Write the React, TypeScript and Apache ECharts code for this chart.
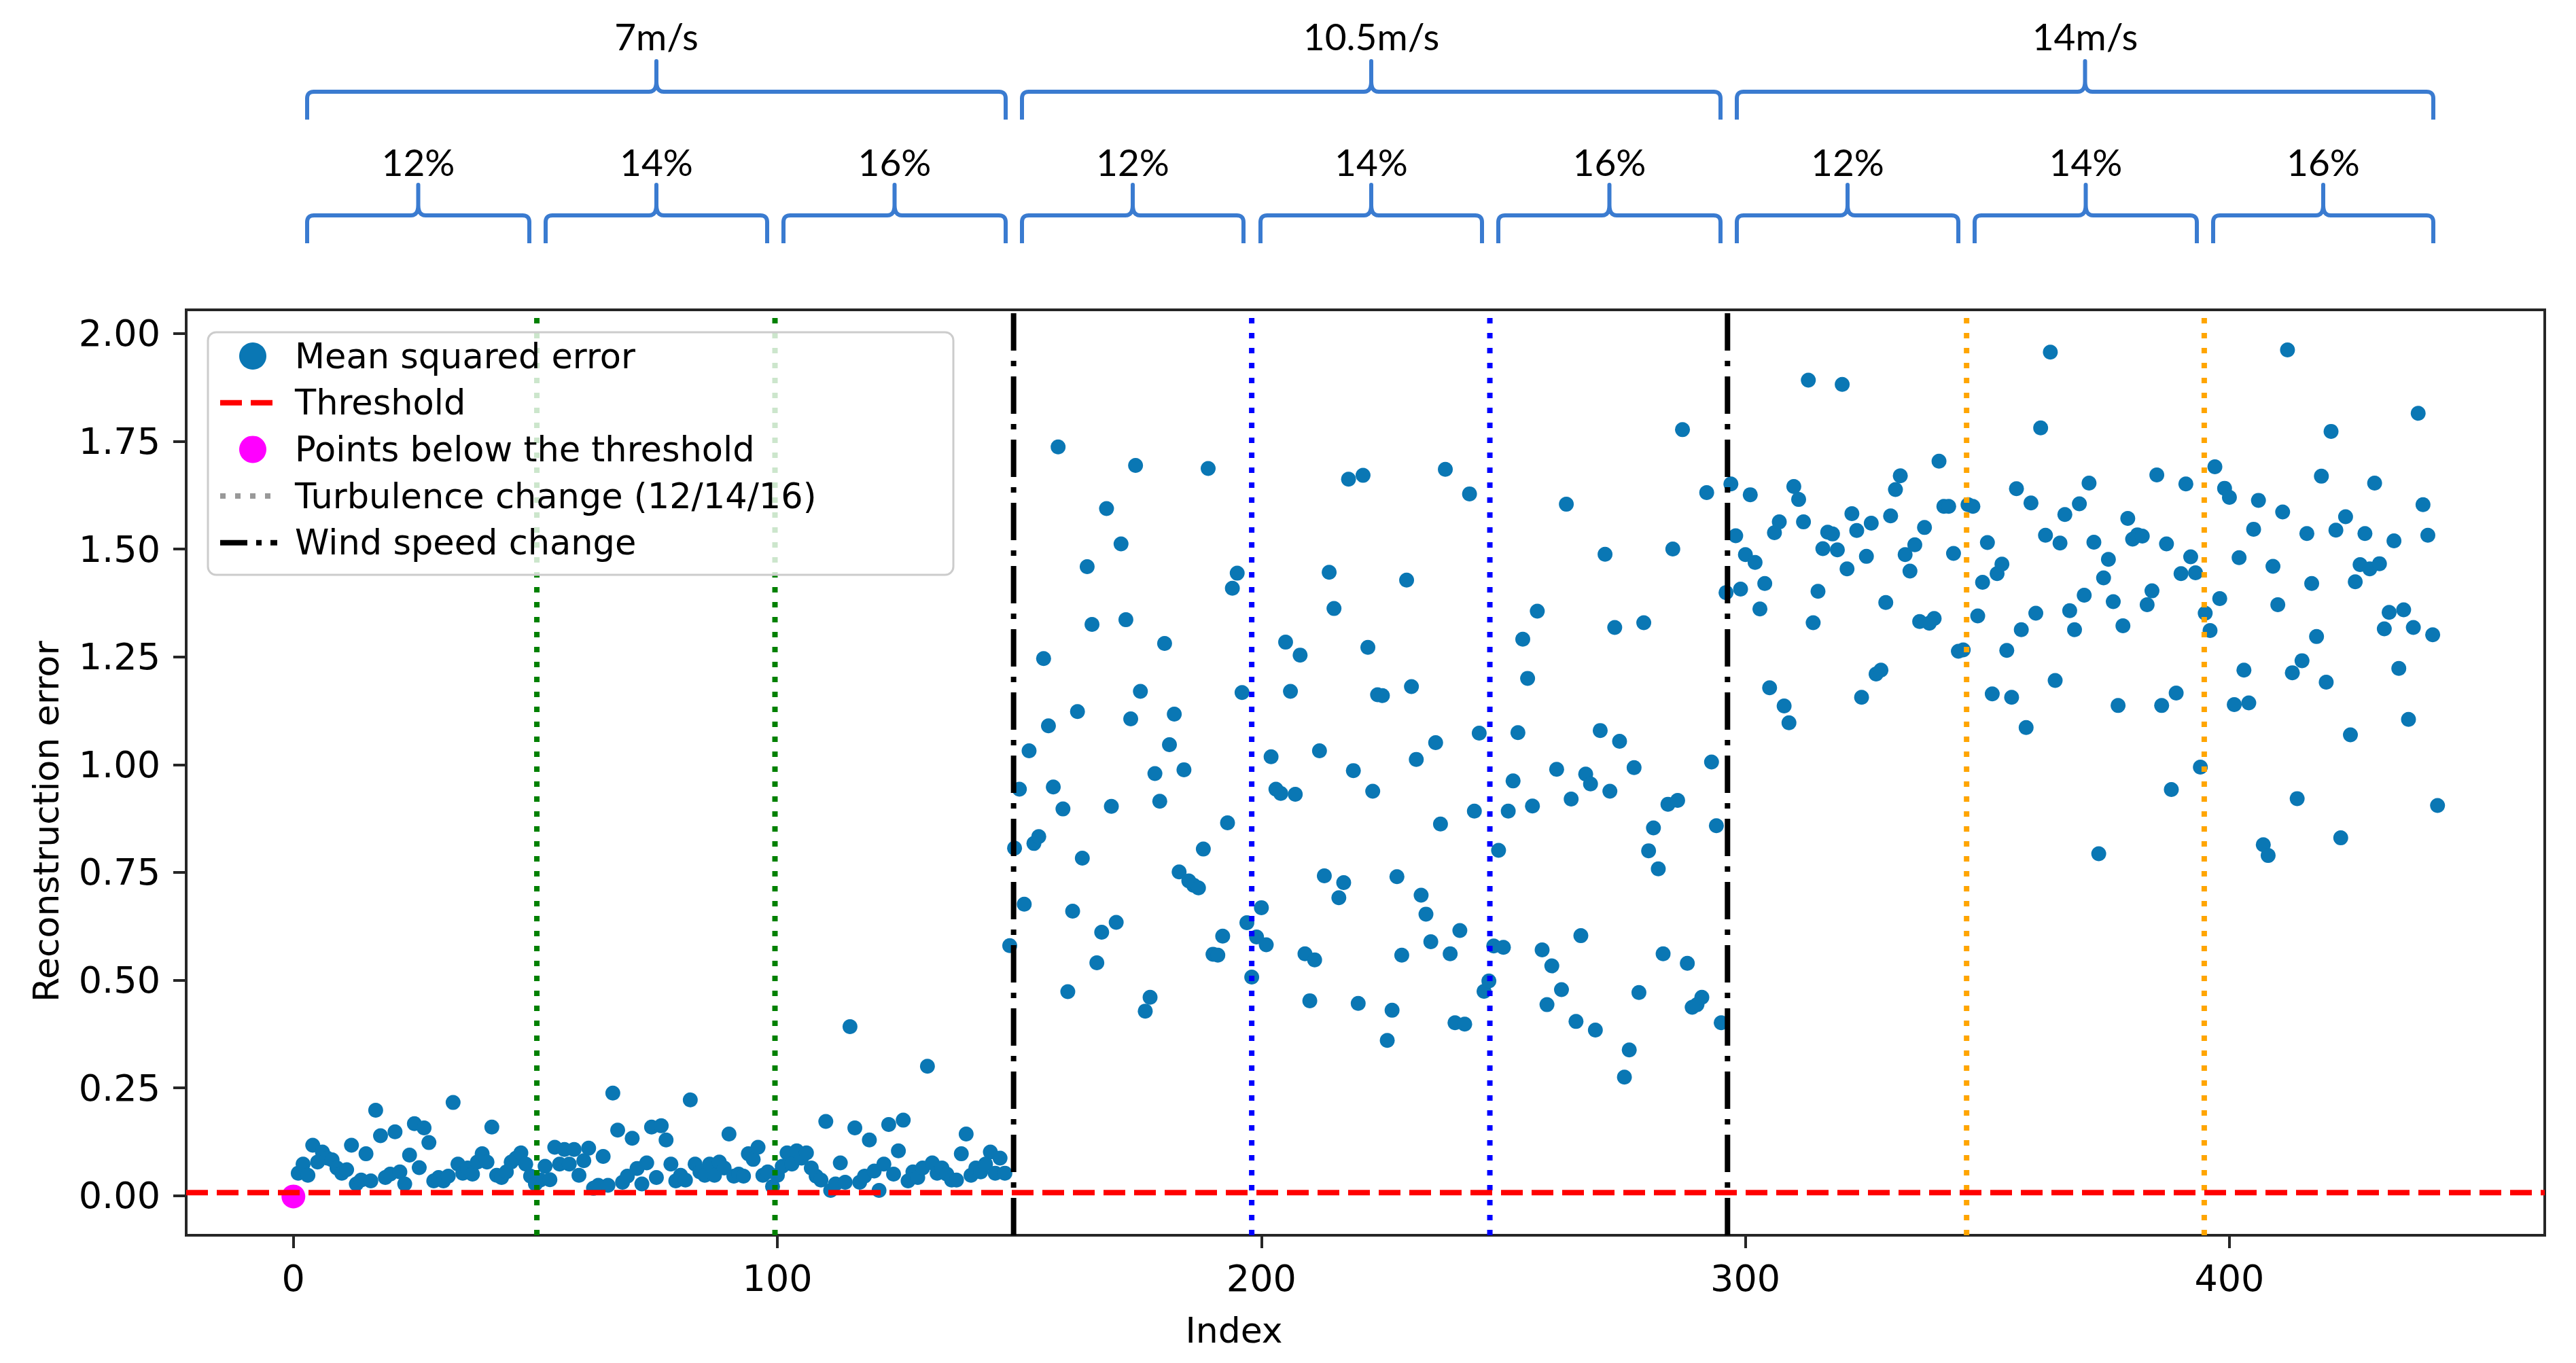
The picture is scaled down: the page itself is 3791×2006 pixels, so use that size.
import React, { useEffect, useRef } from "react";
import * as echarts from "echarts";

// ---------- data ----------
// 7 m/s block, indices 0..147
const lowWindValues = [
  -0.002, 0.052, 0.073, 0.047, 0.117, 0.078, 0.101, 0.087, 0.083, 0.064,
  0.052, 0.060, 0.117, 0.027, 0.036, 0.097, 0.034, 0.198, 0.139, 0.042,
  0.050, 0.148, 0.055, 0.027, 0.094, 0.167, 0.065, 0.157, 0.123, 0.034,
  0.042, 0.034, 0.045, 0.216, 0.073, 0.052, 0.064, 0.050, 0.078, 0.097,
  0.078, 0.159, 0.047, 0.042, 0.055, 0.078, 0.087, 0.099, 0.073, 0.045,
  0.027, 0.036, 0.068, 0.037, 0.112, 0.073, 0.107, 0.073, 0.107, 0.047,
  0.081, 0.110, 0.017, 0.024, 0.091, 0.024, 0.238, 0.152, 0.031, 0.045,
  0.133, 0.063, 0.027, 0.076, 0.159, 0.042, 0.162, 0.129, 0.073, 0.034,
  0.047, 0.036, 0.222, 0.073, 0.055, 0.047, 0.073, 0.047, 0.078, 0.064,
  0.143, 0.045, 0.050, 0.045, 0.097, 0.084, 0.112, 0.047, 0.055, 0.021,
  0.047, 0.068, 0.099, 0.073, 0.104, 0.087, 0.099, 0.064, 0.045, 0.036,
  0.172, 0.012, 0.027, 0.076, 0.031, 0.392, 0.157, 0.031, 0.045, 0.129,
  0.057, 0.012, 0.073, 0.165, 0.050, 0.104, 0.175, 0.034, 0.055, 0.042,
  0.064, 0.300, 0.076, 0.052, 0.064, 0.050, 0.036, 0.036, 0.097, 0.143,
  0.047, 0.064, 0.055, 0.073, 0.101, 0.052, 0.087, 0.052,
];
// 10.5 m/s block, indices 148..295
const midWindValues = [
  0.58, 0.806, 0.943, 0.676, 1.032, 0.817, 0.833, 1.246, 1.09, 0.948,
  1.737, 0.897, 0.473, 0.66, 1.123, 0.783, 1.459, 1.325, 0.54, 0.611,
  1.594, 0.903, 0.634, 1.512, 1.336, 1.106, 1.694, 1.17, 0.428, 0.46,
  0.979, 0.915, 1.281, 1.046, 1.117, 0.751, 0.988, 0.73, 0.72, 0.714,
  0.804, 1.687, 0.56, 0.558, 0.602, 0.865, 1.409, 1.444, 1.167, 0.633,
  0.507, 0.6, 0.668, 0.582, 1.018, 0.943, 0.933, 1.284, 1.17, 0.931,
  1.254, 0.561, 0.452, 0.547, 1.032, 0.742, 1.446, 1.362, 0.691, 0.726,
  1.662, 0.986, 0.446, 1.671, 1.272, 0.938, 1.162, 1.16, 0.36, 0.43,
  0.74, 0.558, 1.428, 1.181, 1.012, 0.697, 0.653, 0.589, 1.051, 0.862,
  1.685, 0.561, 0.401, 0.615, 0.398, 1.628, 0.892, 1.073, 0.474, 0.498,
  0.579, 0.801, 0.576, 0.892, 0.962, 1.074, 1.291, 1.2, 0.904, 1.356,
  0.57, 0.443, 0.533, 0.989, 0.478, 1.604, 0.92, 0.404, 0.603, 0.978,
  0.955, 0.384, 1.079, 1.488, 0.938, 1.318, 1.054, 0.275, 0.338, 0.993,
  0.471, 1.329, 0.8, 0.853, 0.758, 0.561, 0.908, 1.5, 0.917, 1.777,
  0.539, 0.437, 0.443, 0.46, 1.631, 1.006, 0.858, 0.401,
];
// 14 m/s block, indices 296..443
const highWindValues = [
  1.399, 1.651, 1.531, 1.407, 1.487, 1.626, 1.469, 1.361, 1.42, 1.178,
  1.538, 1.563, 1.136, 1.097, 1.645, 1.615, 1.563, 1.892, 1.329, 1.402,
  1.501, 1.539, 1.535, 1.498, 1.882, 1.454, 1.582, 1.543, 1.156, 1.483,
  1.56, 1.21, 1.219, 1.376, 1.577, 1.638, 1.67, 1.487, 1.449, 1.51,
  1.332, 1.55, 1.328, 1.339, 1.704, 1.599, 1.599, 1.49, 1.263, 1.266,
  1.603, 1.599, 1.345, 1.423, 1.515, 1.164, 1.443, 1.465, 1.265, 1.156,
  1.64, 1.313, 1.086, 1.607, 1.351, 1.781, 1.532, 1.957, 1.195, 1.514,
  1.58, 1.357, 1.313, 1.605, 1.393, 1.653, 1.516, 0.793, 1.433, 1.476,
  1.378, 1.137, 1.322, 1.571, 1.523, 1.533, 1.53, 1.371, 1.403, 1.672,
  1.137, 1.512, 0.942, 1.166, 1.443, 1.651, 1.482, 1.445, 0.994, 1.351,
  1.311, 1.691, 1.385, 1.641, 1.62, 1.139, 1.48, 1.219, 1.143, 1.546,
  1.613, 0.814, 0.789, 1.46, 1.371, 1.586, 1.962, 1.213, 0.921, 1.241,
  1.536, 1.42, 1.297, 1.669, 1.191, 1.773, 1.544, 0.83, 1.575, 1.069,
  1.424, 1.464, 1.536, 1.454, 1.653, 1.466, 1.315, 1.353, 1.519, 1.223,
  1.359, 1.105, 1.318, 1.815, 1.603, 1.532, 1.301, 0.905,
];

const THRESHOLD = 0.007;
const turbulenceChangeAt = [50.3, 99.5, 198.0, 247.2, 345.7, 394.8];
const turbulenceLineColors = ["#008000", "#008000", "#0000ff", "#0000ff", "#ffa500", "#ffa500"];
const windChangeAt = [148.8, 296.3];

const xTicks = [0, 100, 200, 300, 400];
const yTicks = [0, 0.25, 0.5, 0.75, 1.0, 1.25, 1.5, 1.75, 2.0];
const X_MIN = -22.15;
const X_MAX = 465.15;
const Y_MIN = -0.092;
const Y_MAX = 2.055;

const windSpeedLabels = ["7m/s", "10.5m/s", "14m/s"];
const turbulenceLabels = ["12%", "14%", "16%"];
const legendLabels = [
  "Mean squared error",
  "Threshold",
  "Points below the threshold",
  "Turbulence change (12/14/16)",
  "Wind speed change",
];

// ---------- layout (pixels) ----------
const W = 3791;
const H = 2006;
const BLUE = "#0a77b4";
const MAGENTA = "#ff00ff";
const AXIS = "#262626";
const BRACE = "#3a7bd0";
const bigBraceSpans = [
  [452, 1480],
  [1504, 2532],
  [2556, 3581],
];
const smallBraceSpans = [
  [452, 779], [803, 1129], [1153, 1480],
  [1504, 1830], [1855, 2181], [2205, 2532],
  [2556, 2882], [2906, 3233], [3257, 3581],
];

function bracePoints(x0: number, x1: number, yBar: number, yLeg: number, yPeak: number) {
  const pts: number[][] = [];
  const r = 10;
  const w = 11;
  const h = 15;
  const xm = (x0 + x1) / 2;
  const quad = (p0: number[], c: number[], p1: number[]) => {
    const n = 8;
    for (let i = 1; i <= n; i++) {
      const t = i / n;
      const a = (1 - t) * (1 - t);
      const b = 2 * (1 - t) * t;
      const d = t * t;
      pts.push([a * p0[0] + b * c[0] + d * p1[0], a * p0[1] + b * c[1] + d * p1[1]]);
    }
  };
  pts.push([x0, yLeg]);
  pts.push([x0, yBar + r]);
  quad([x0, yBar + r], [x0, yBar], [x0 + r, yBar]);
  pts.push([xm - w, yBar]);
  quad([xm - w, yBar], [xm, yBar], [xm, yBar - h]);
  pts.push([xm, yPeak]);
  pts.push([xm, yBar - h]);
  quad([xm, yBar - h], [xm, yBar], [xm + w, yBar]);
  pts.push([x1 - r, yBar]);
  quad([x1 - r, yBar], [x1, yBar], [x1, yBar + r]);
  pts.push([x1, yLeg]);
  return pts;
}

function textEl(text: string, x: number, y: number, size: number, family: string, extra: any = {}) {
  return {
    type: "text",
    x,
    y,
    z: 100,
    silent: true,
    ...extra,
    style: {
      text,
      fill: "#000",
      fontSize: size,
      fontFamily: family,
      textAlign: extra.align || "center",
      textVerticalAlign: "middle",
      align: extra.align || "center",
      verticalAlign: "middle",
    },
  };
}

export default function App() {
  const ref = useRef<HTMLDivElement>(null);

  useEffect(() => {
    if (!ref.current) return;
    const chart = echarts.init(ref.current, null, { renderer: "svg", width: W, height: H });

    const allValues = [...lowWindValues, ...midWindValues, ...highWindValues];
    const msePoints = allValues.map((v, i) => [i, v]);
    const belowPoints = msePoints.filter((p) => p[1] < THRESHOLD);

    const vLine = (x: number, color: string, dash: number[], name: string) => ({
      type: "line",
      name,
      data: [
        [x, Y_MIN],
        [x, Y_MAX],
      ],
      symbol: "none",
      silent: true,
      z: 5,
      lineStyle: { color, width: 8, type: dash, opacity: 1 },
    });

    const series: any[] = [
      {
        type: "scatter",
        name: "Mean squared error",
        data: msePoints,
        symbol: "circle",
        symbolSize: 22,
        itemStyle: { color: BLUE, opacity: 1 },
        z: 2,
        silent: true,
      },
      {
        type: "scatter",
        name: "Points below the threshold",
        data: belowPoints,
        symbol: "circle",
        symbolSize: 35,
        itemStyle: { color: MAGENTA, opacity: 1 },
        z: 3,
        silent: true,
      },
      ...turbulenceChangeAt.map((x, i) => vLine(x, turbulenceLineColors[i], [8, 14], "turb" + i)),
      ...windChangeAt.map((x, i) => vLine(x, "#000000", [55, 15, 8, 15], "wind" + i)),
      {
        type: "line",
        name: "Threshold",
        data: [
          [X_MIN, THRESHOLD],
          [X_MAX, THRESHOLD],
        ],
        symbol: "none",
        silent: true,
        z: 6,
        lineStyle: { color: "#ff0000", width: 8, type: [32, 13], opacity: 1 },
      },
    ];

    // ----- graphic: braces, labels, legend, axis titles -----
    const elements: any[] = [];
    bigBraceSpans.forEach(([x0, x1], i) => {
      elements.push({
        type: "polyline",
        z: 100,
        silent: true,
        shape: { points: bracePoints(x0, x1, 135, 176, 90) },
        style: { stroke: BRACE, lineWidth: 6, fill: null, lineJoin: "round" },
      });
      elements.push(textEl(windSpeedLabels[i], (x0 + x1) / 2, 53, 55, "Lato"));
    });
    smallBraceSpans.forEach(([x0, x1], i) => {
      elements.push({
        type: "polyline",
        z: 100,
        silent: true,
        shape: { points: bracePoints(x0, x1, 317, 358, 272) },
        style: { stroke: BRACE, lineWidth: 6, fill: null, lineJoin: "round" },
      });
      elements.push(textEl(turbulenceLabels[i % 3], (x0 + x1) / 2, 238, 55, "Lato"));
    });

    // axis titles
    elements.push(textEl("Index", 1816, 1958, 52, "DejaVu Sans"));
    elements.push(textEl("Reconstruction error", 68, 1209, 52, "DejaVu Sans", { rotation: Math.PI / 2 }));

    // legend
    const LX = 306;
    const LY = 489;
    elements.push({
      type: "rect",
      z: 90,
      silent: true,
      shape: { x: LX, y: LY, width: 1097, height: 357, r: 12 },
      style: { fill: "rgba(255,255,255,0.8)", stroke: "#cccccc", lineWidth: 3 },
    });
    const rowY = (i: number) => 524 + i * 68.7;
    const mx0 = 324;
    const mx1 = 408;
    elements.push({
      type: "circle", z: 100, silent: true,
      shape: { cx: 372, cy: rowY(0), r: 20 },
      style: { fill: BLUE },
    });
    elements.push({
      type: "line", z: 100, silent: true,
      shape: { x1: mx0, y1: rowY(1), x2: mx1, y2: rowY(1) },
      style: { stroke: "#ff0000", lineWidth: 8, lineDash: [32, 13] },
    });
    elements.push({
      type: "circle", z: 100, silent: true,
      shape: { cx: 372, cy: rowY(2), r: 20 },
      style: { fill: MAGENTA },
    });
    elements.push({
      type: "line", z: 100, silent: true,
      shape: { x1: mx0, y1: rowY(3), x2: mx1, y2: rowY(3) },
      style: { stroke: "#999999", lineWidth: 8, lineDash: [8, 14] },
    });
    elements.push({
      type: "line", z: 100, silent: true,
      shape: { x1: mx0, y1: rowY(4), x2: mx1, y2: rowY(4) },
      style: { stroke: "#000000", lineWidth: 8, lineDash: [40, 13, 8, 13] },
    });
    legendLabels.forEach((t, i) => {
      elements.push(textEl(t, 434, rowY(i), 51, "DejaVu Sans", { align: "left" }));
    });

    const option: any = {
      animation: false,
      backgroundColor: "#ffffff",
      textStyle: { fontFamily: "DejaVu Sans" },
      grid: {
        left: 274,
        right: 46,
        top: 456,
        bottom: 188,
        show: true,
        borderColor: AXIS,
        borderWidth: 4,
        backgroundColor: "transparent",
      },
      xAxis: {
        type: "value",
        min: X_MIN,
        max: X_MAX,
        splitLine: { show: false },
        axisLine: { show: true, onZero: false, lineStyle: { color: AXIS, width: 4 } },
        axisTick: {
          show: true,
          length: 19,
          inside: false,
          customValues: xTicks,
          lineStyle: { color: AXIS, width: 4 },
        },
        axisLabel: {
          customValues: xTicks,
          fontSize: 54,
          color: "#000",
          margin: 36,
          fontFamily: "DejaVu Sans",
          formatter: (v: number) => String(Math.round(v)),
        },
      },
      yAxis: {
        type: "value",
        min: Y_MIN,
        max: Y_MAX,
        splitLine: { show: false },
        axisLine: { show: true, onZero: false, lineStyle: { color: AXIS, width: 4 } },
        axisTick: {
          show: true,
          length: 19,
          inside: false,
          customValues: yTicks,
          lineStyle: { color: AXIS, width: 4 },
        },
        axisLabel: {
          customValues: yTicks,
          fontSize: 54,
          color: "#000",
          margin: 38,
          fontFamily: "DejaVu Sans",
          formatter: (v: number) => v.toFixed(2),
        },
      },
      series,
      graphic: { elements },
    };

    chart.setOption(option);
    return () => {
      chart.dispose();
    };
  }, []);

  return (
    <div
      ref={ref}
      style={{ position: "absolute", left: 0, top: 0, width: W, height: H, background: "#fff" }}
    />
  );
}
